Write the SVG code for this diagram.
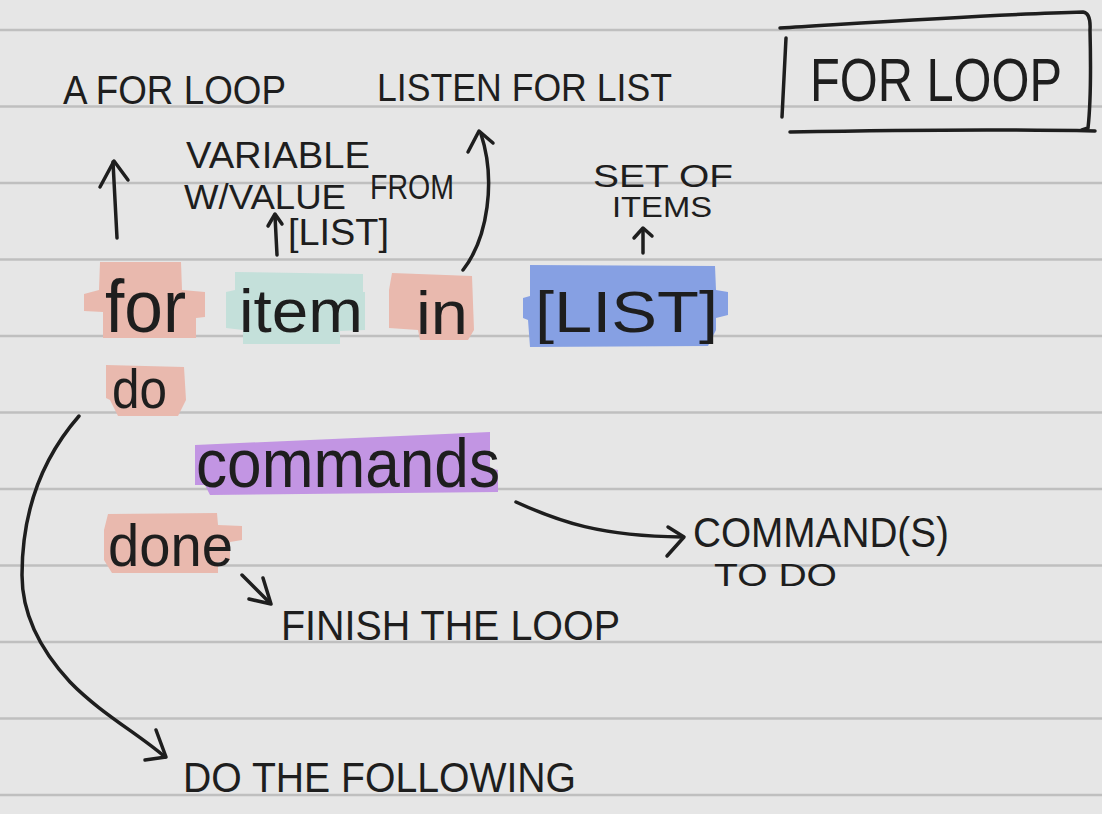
<svg xmlns="http://www.w3.org/2000/svg" width="1102" height="814" viewBox="0 0 1102 814">
<style>
.rule{stroke:#bfbfbf;stroke-width:2.5}
.ink{fill:none;stroke:#1e1e1e;stroke-width:3.5;stroke-linecap:round;stroke-linejoin:round}
.hand{font-family:"Liberation Sans","DejaVu Sans",sans-serif;fill:#1e1e1e}
.code{font-family:"Liberation Sans","DejaVu Sans",sans-serif;fill:#1e1e1e}
.pink{fill:#e9b9ae}
.teal{fill:#c4e0da}
.blue{fill:#86a0e3}
.purple{fill:#c295e3}
</style>
<rect x="0" y="0" width="1102" height="814" fill="#e6e6e6"/>
<g id="rules">
<line class="rule" x1="0" y1="30" x2="1102" y2="30"/>
<line class="rule" x1="0" y1="106.5" x2="1102" y2="106.5"/>
<line class="rule" x1="0" y1="183" x2="1102" y2="183"/>
<line class="rule" x1="0" y1="259.5" x2="1102" y2="259.5"/>
<line class="rule" x1="0" y1="336" x2="1102" y2="336"/>
<line class="rule" x1="0" y1="412.5" x2="1102" y2="412.5"/>
<line class="rule" x1="0" y1="489" x2="1102" y2="489"/>
<line class="rule" x1="0" y1="565.5" x2="1102" y2="565.5"/>
<line class="rule" x1="0" y1="642" x2="1102" y2="642"/>
<line class="rule" x1="0" y1="718.5" x2="1102" y2="718.5"/>
<line class="rule" x1="0" y1="795" x2="1102" y2="795"/>
</g>

<g id="title">
<path class="ink" d="M780,28 C880,22 1000,14 1083,12 Q1091,13 1090,30 C1091,70 1090,110 1088,128 L1082,130"/>
<path class="ink" d="M790,132 C900,130 1000,129 1095,131"/>
<path class="ink" d="M786,38 L782,117"/>
<text class="hand" x="810" y="101" font-size="62" textLength="252" lengthAdjust="spacingAndGlyphs">FOR LOOP</text>
</g>

<g id="label-a-for-loop">
<text class="hand" x="63" y="104" font-size="40" textLength="223" lengthAdjust="spacingAndGlyphs">A FOR LOOP</text>
</g>
<g id="label-listen">
<text class="hand" x="377" y="101" font-size="38" textLength="295" lengthAdjust="spacingAndGlyphs">LISTEN FOR LIST</text>
</g>
<g id="label-variable">
<text class="hand" x="186" y="168" font-size="37" textLength="184" lengthAdjust="spacingAndGlyphs">VARIABLE</text>
<text class="hand" font-size="35"><tspan x="184" y="209" textLength="162" lengthAdjust="spacingAndGlyphs">W/VALUE</tspan><tspan x="370" y="199" textLength="84" lengthAdjust="spacingAndGlyphs">FROM</tspan></text>
<text class="hand" x="288" y="245" font-size="36" textLength="101" lengthAdjust="spacingAndGlyphs">[LIST]</text>
</g>
<g id="label-set">
<text class="hand" x="593" y="187" font-size="31" textLength="140" lengthAdjust="spacingAndGlyphs">SET OF</text>
<text class="hand" x="612" y="217" font-size="29" textLength="100" lengthAdjust="spacingAndGlyphs">ITEMS</text>
</g>

<g id="node-for">
<path class="pink" d="M100,262 L181,262 L182,290 L205,292 L205,317 L196,318 L196,338 L103,338 L103,312 L84,311 L84,294 L99,290 Z"/>
<text class="code" x="105" y="332" font-size="75" textLength="81" lengthAdjust="spacingAndGlyphs">for</text>
</g>
<g id="node-item">
<path class="teal" d="M235,272 L363,274 L363,292 L365,292 L365,330 L340,331 L340,344 L243,344 L243,330 L226,328 L226,292 L235,290 Z"/>
<text class="code" x="239" y="332" font-size="62" textLength="124" lengthAdjust="spacingAndGlyphs">item</text>
</g>
<g id="node-in">
<path class="pink" d="M392,273 L472,276 L474,330 L468,340 L420,340 L418,330 L389,328 L389,290 Z"/>
<text class="code" x="416" y="334" font-size="62" textLength="52" lengthAdjust="spacingAndGlyphs">in</text>
</g>
<g id="node-list">
<path class="blue" d="M530,265 L715,266 L716,290 L728,292 L728,315 L716,318 L716,330 L708,346 L530,347 L528,320 L523,318 L523,298 L530,296 Z"/>
<text class="code" x="535" y="332" font-size="58" textLength="183" lengthAdjust="spacingAndGlyphs">[LIST]</text>
</g>
<g id="node-do">
<path class="pink" d="M106,365 L184,367 L186,400 L178,416 L118,416 L110,400 L106,398 Z"/>
<text class="code" x="112" y="408" font-size="56" textLength="55" lengthAdjust="spacingAndGlyphs">do</text>
</g>
<g id="node-commands">
<path class="purple" d="M195,445 L490,432 L490,468 L498,470 L498,492 L210,495 L205,485 L195,485 Z"/>
<text class="code" x="196" y="487" font-size="68" textLength="304" lengthAdjust="spacingAndGlyphs">commands</text>
</g>
<g id="node-done">
<path class="pink" d="M108,514 L217,513 L218,525 L242,526 L242,540 L230,542 L230,560 L218,562 L218,573 L112,573 L104,560 L104,530 Z"/>
<text class="code" x="108" y="566" font-size="60" textLength="125" lengthAdjust="spacingAndGlyphs">done</text>
</g>

<g id="label-commands-to-do">
<text class="hand" x="693" y="547" font-size="42" textLength="256" lengthAdjust="spacingAndGlyphs">COMMAND(S)</text>
<text class="hand" x="714" y="586" font-size="31" textLength="123" lengthAdjust="spacingAndGlyphs">TO DO</text>
</g>
<g id="label-finish">
<text class="hand" x="281" y="640" font-size="42" textLength="339" lengthAdjust="spacingAndGlyphs">FINISH THE LOOP</text>
</g>
<g id="label-do-following">
<text class="hand" x="183" y="792" font-size="42" textLength="393" lengthAdjust="spacingAndGlyphs">DO THE FOLLOWING</text>
</g>

<g id="connectors">
<path class="ink" d="M117,238 L113,162"/>
<path class="ink" d="M100,187 L114,161 L128,180"/>
<path class="ink" d="M277,255 L275,216"/>
<path class="ink" d="M268,226 L275,214 L282,224"/>
<path class="ink" d="M463,270 C488,238 496,180 481,134"/>
<path class="ink" d="M468,152 L479,131 L493,143"/>
<path class="ink" d="M643,253 L643,231"/>
<path class="ink" d="M634,238 L643,228 L652,236"/>
<path class="ink" d="M516,502 C560,522 600,536 682,537"/>
<path class="ink" d="M668,527 L684,537 L667,556"/>
<path class="ink" d="M242,575 L270,603"/>
<path class="ink" d="M263,578 L271,604 L249,599"/>
<path class="ink" d="M79,416 C45,455 22,505 22,575 C22,620 45,655 70,682 C100,713 140,735 165,757"/>
<path class="ink" d="M156,730 L166,757 L145,760"/>
</g>
</svg>
